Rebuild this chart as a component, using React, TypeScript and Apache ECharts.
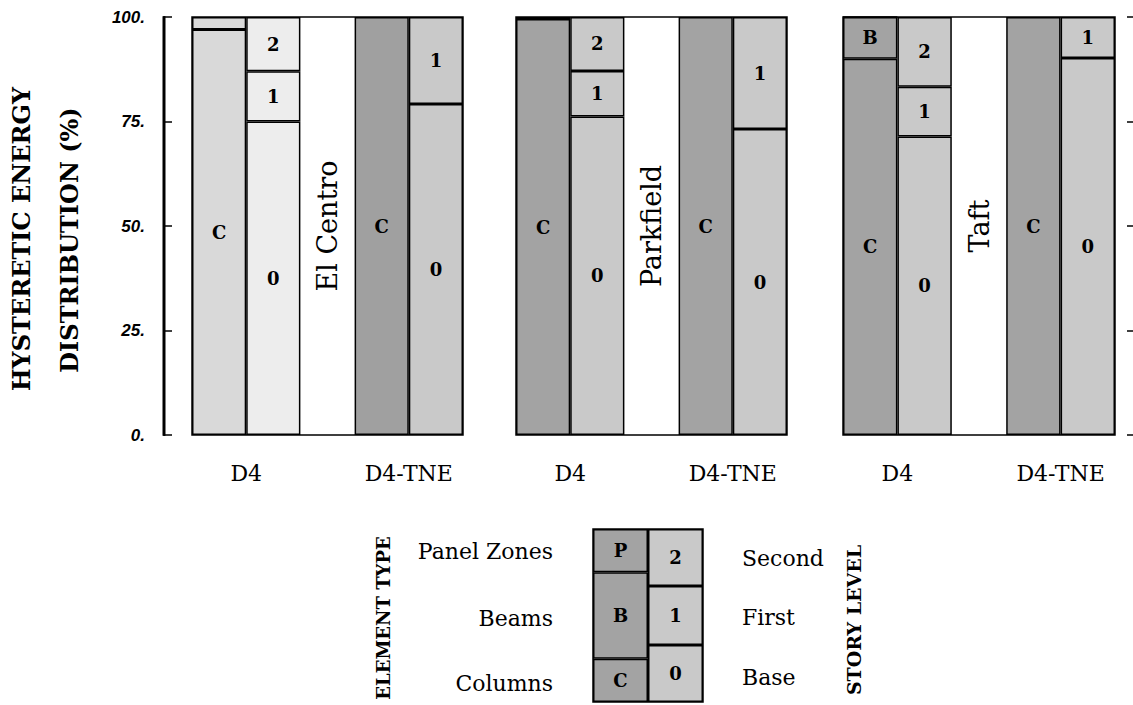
import React, { useEffect, useRef } from 'react';
import * as echarts from 'echarts';

// ---------- data ----------
const sites = ['El Centro', 'Parkfield', 'Taft'];
const categories = ['D4 element', 'D4 story', 'site', 'D4-TNE element', 'D4-TNE story'];
const yTicks = [0, 25, 50, 75, 100];
const groupLabels = ['D4', 'D4-TNE'];

// element type shares (%) for D4, per site
const columnsD4 = [97, 99.5, 90];
const beamsD4 = [0, 0, 10];
const panelZonesD4 = [3, 0.5, 0];
// element type shares (%) for D4-TNE, per site
const columnsTNE = [100, 100, 100];
// story level shares (%) for D4, per site
const baseD4 = [75, 76.2, 71.4];
const firstD4 = [12, 10.9, 11.9];
const secondD4 = [13, 12.9, 16.7];
// story level shares (%) for D4-TNE, per site
const baseTNE = [79.2, 73.2, 90.2];
const firstTNE = [20.8, 26.8, 9.8];

// legend key
const legendElementNames = ['C', 'B', 'P'];
const legendElementSizes = [25, 50, 25];
const legendElementText = ['Columns', 'Beams', 'Panel Zones'];
const legendStoryNames = ['0', '1', '2'];
const legendStorySizes = [33, 34, 33];
const legendStoryText = ['Base', 'First', 'Second'];

// ---------- style ----------
const elementD4Color = ['#d9d9d9', '#a3a3a3', '#a3a3a3'];
const storyD4Color = ['#ededed', '#c9c9c9', '#c9c9c9'];
const elementTNEColor = ['#a0a0a0', '#a3a3a3', '#a3a3a3'];
const storyTNEColor = ['#c9c9c9', '#c9c9c9', '#c9c9c9'];
const gridLefts = [192, 516, 843];
const gridWidths = [271, 271, 272];
const gridTop = 17;
const gridHeight = 418;
const leftAxisOffset = 28;
const SERIF = '"DejaVu Serif", serif';

export default function App() {
  const ref = useRef<HTMLDivElement>(null);
  useEffect(() => {
    if (!ref.current) return;
    const chart = echarts.init(ref.current, undefined, { renderer: 'svg' });

    const grids: any[] = [];
    const xAxes: any[] = [];
    const yAxes: any[] = [];
    const series: any[] = [];
    const graphics: any[] = [];

    const segLabel = {
      show: true,
      position: 'inside',
      color: '#000',
      fontFamily: SERIF,
      fontWeight: 'bold',
      fontSize: 18,
      formatter: (p: any) => (p.value > 5 ? p.seriesName : ''),
    };
    const barBase = (name: string, gi: number, data: any[]) => ({
      type: 'bar',
      name,
      xAxisIndex: gi,
      yAxisIndex: gi,
      stack: 'all' + gi,
      barCategoryGap: '0%',
      itemStyle: { borderColor: '#000', borderWidth: 1.5 },
      label: segLabel,
      data,
    });
    const item = (v: number, color: string) => ({ value: v, itemStyle: { color } });

    for (let p = 0; p < 3; p++) {
      grids.push({
        left: gridLefts[p],
        top: gridTop,
        width: gridWidths[p],
        height: gridHeight,
        show: true,
        borderColor: '#000',
        borderWidth: 1.5,
      });
      xAxes.push({
        type: 'category',
        gridIndex: p,
        data: categories,
        axisLine: { show: false },
        axisTick: { show: false },
        axisLabel: { show: false },
      });
      const yBase: any = {
        type: 'value',
        gridIndex: p,
        min: yTicks[0],
        max: yTicks[yTicks.length - 1],
        interval: 25,
        splitLine: { show: false },
      };
      if (p === 0) {
        yAxes.push({
          ...yBase,
          offset: leftAxisOffset,
          axisLine: { show: true, onZero: false, lineStyle: { color: '#000', width: 2 } },
          axisTick: { show: true, inside: true, length: 8, lineStyle: { color: '#000', width: 1.5 } },
          axisLabel: {
            show: true,
            margin: 19,
            color: '#000',
            fontFamily: '"Liberation Sans", Arial, sans-serif',
            fontStyle: 'italic',
            fontWeight: 'bold',
            fontSize: 17,
            formatter: (v: number) => v + '.',
          },
        });
      } else if (p === 2) {
        yAxes.push({
          ...yBase,
          position: 'right',
          offset: 12,
          axisLine: { show: false, onZero: false },
          axisTick: { show: true, inside: false, length: 6, lineStyle: { color: '#000', width: 1.5 } },
          axisLabel: { show: false },
        });
      } else {
        yAxes.push({ ...yBase, axisLine: { show: false }, axisTick: { show: false }, axisLabel: { show: false } });
      }

      const e = elementD4Color[p];
      const s = storyD4Color[p];
      const et = elementTNEColor[p];
      const st = storyTNEColor[p];
      series.push(barBase('C', p, [item(columnsD4[p], e), '-', '-', item(columnsTNE[p], et), '-']));
      series.push(barBase('B', p, [item(beamsD4[p], e), '-', '-', '-', '-']));
      series.push(barBase('P', p, [item(panelZonesD4[p], e), '-', '-', '-', '-']));
      series.push(barBase('0', p, ['-', item(baseD4[p], s), '-', '-', item(baseTNE[p], st)]));
      series.push(barBase('1', p, ['-', item(firstD4[p], s), '-', '-', item(firstTNE[p], st)]));
      series.push(barBase('2', p, ['-', item(secondD4[p], s), '-', '-', '-']));
      series.push({
        type: 'bar',
        name: sites[p],
        xAxisIndex: p,
        yAxisIndex: p,
        stack: 'all' + p,
        barCategoryGap: '0%',
        itemStyle: { color: 'rgba(0,0,0,0)', borderWidth: 0 },
        label: {
          show: true,
          position: 'inside',
          rotate: 90,
          color: '#000',
          fontFamily: SERIF,
          fontSize: 27,
          formatter: () => sites[p],
        },
        data: ['-', '-', 100, '-', '-'],
      });

      // group labels under each panel
      const centers = [gridLefts[p] + gridWidths[p] * 0.2, gridLefts[p] + gridWidths[p] * 0.8];
      groupLabels.forEach((t, i) => {
        graphics.push({
          type: 'text',
          x: centers[i],
          y: 473,
          style: { text: t, fill: '#000', font: `22px ${SERIF}`, textAlign: 'center', textVerticalAlign: 'middle' },
        });
      });
    }

    // left axis bracket line (frame of the value axis)
    const axisX = gridLefts[0] - leftAxisOffset;
    graphics.push({
      type: 'rect',
      z: 100,
      shape: { x: axisX - 1.5, y: gridTop - 0.75, width: 3, height: gridHeight + 1.5 },
      style: { fill: '#000' },
    });

    // legend key grid
    const lg = 3;
    grids.push({ left: 593, top: 529, width: 110, height: 173, show: true, borderColor: '#000', borderWidth: 1.5 });
    xAxes.push({
      type: 'category',
      gridIndex: lg,
      data: ['element', 'story'],
      axisLine: { show: false },
      axisTick: { show: false },
      axisLabel: { show: false },
    });
    yAxes.push({ type: 'value', gridIndex: lg, min: 0, max: 100, show: false });
    const legLabel = { ...segLabel, formatter: (p: any) => p.seriesName };
    legendElementNames.forEach((n, i) => {
      series.push({ ...barBase(n, lg, [item(legendElementSizes[i], '#a3a3a3'), '-']), label: legLabel });
    });
    legendStoryNames.forEach((n, i) => {
      series.push({ ...barBase(n, lg, ['-', item(legendStorySizes[i], '#c9c9c9')]), label: legLabel });
    });

    const elemY = [683, 618, 551];
    const storyY = [677, 617, 558];
    legendElementText.forEach((t, i) => {
      graphics.push({
        type: 'text',
        x: 553,
        y: elemY[i],
        style: { text: t, fill: '#000', font: `22px ${SERIF}`, textAlign: 'right', textVerticalAlign: 'middle' },
      });
    });
    legendStoryText.forEach((t, i) => {
      graphics.push({
        type: 'text',
        x: 742,
        y: storyY[i],
        style: { text: t, fill: '#000', font: `22px ${SERIF}`, textAlign: 'left', textVerticalAlign: 'middle' },
      });
    });
    graphics.push({
      type: 'text',
      x: 383,
      y: 618,
      rotation: Math.PI / 2,
      style: { text: 'ELEMENT TYPE', fill: '#000', font: `bold 18px ${SERIF}`, textAlign: 'center', textVerticalAlign: 'middle' },
    });
    graphics.push({
      type: 'text',
      x: 854,
      y: 620,
      rotation: Math.PI / 2,
      style: { text: 'STORY LEVEL', fill: '#000', font: `bold 19px ${SERIF}`, textAlign: 'center', textVerticalAlign: 'middle' },
    });
    // y axis title
    graphics.push({
      type: 'text',
      x: 21,
      y: 239,
      rotation: Math.PI / 2,
      style: { text: 'HYSTERETIC ENERGY', fill: '#000', font: `bold 24px ${SERIF}`, textAlign: 'center', textVerticalAlign: 'middle' },
    });
    graphics.push({
      type: 'text',
      x: 69,
      y: 240,
      rotation: Math.PI / 2,
      style: { text: 'DISTRIBUTION (%)', fill: '#000', font: `bold 24px ${SERIF}`, textAlign: 'center', textVerticalAlign: 'middle' },
    });

    chart.setOption({
      animation: false,
      backgroundColor: '#fff',
      grid: grids,
      xAxis: xAxes,
      yAxis: yAxes,
      series,
      graphic: graphics,
    });
    return () => chart.dispose();
  }, []);
  return <div ref={ref} style={{ position: 'fixed', left: 0, top: 0, width: 1133, height: 705 }} />;
}
